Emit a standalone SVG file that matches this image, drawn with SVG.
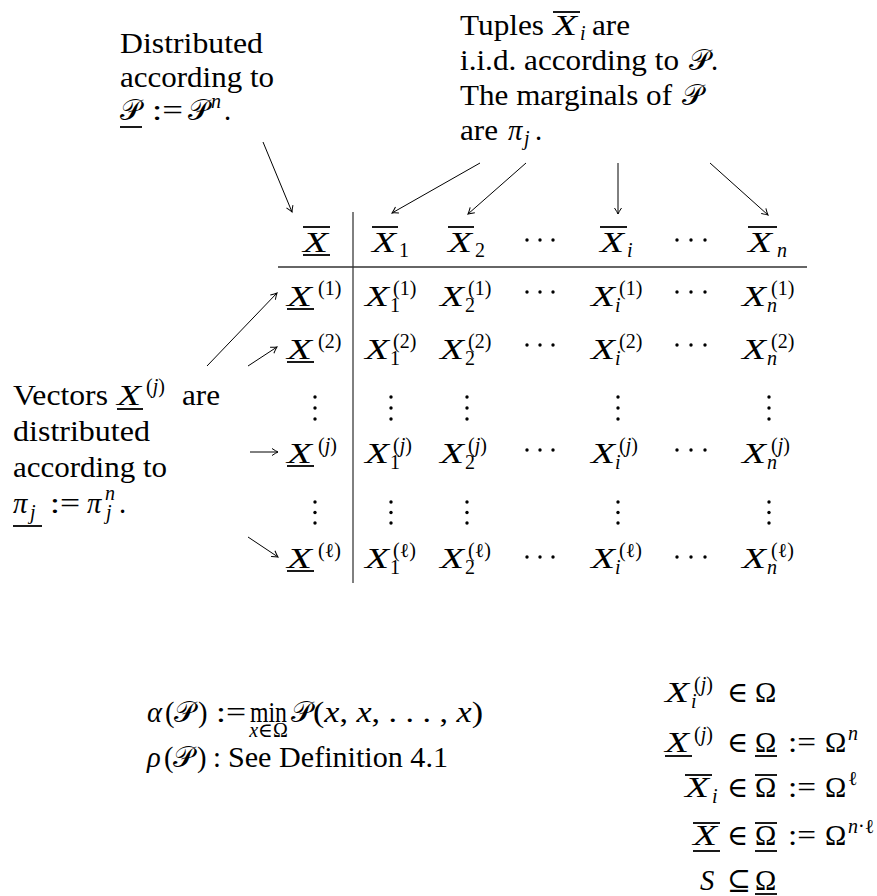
<svg xmlns="http://www.w3.org/2000/svg" width="877" height="896" viewBox="0 0 877 896" font-family="'Liberation Serif', serif">
<defs>
<style>
.t{font-family:'Liberation Serif','DejaVu Serif',serif;font-size:28.6px;fill:#000}
.m{font-style:italic}
.s{font-size:20px}
.cal{font-family:'DejaVu Serif','Liberation Serif',serif;font-style:normal}
.ln{stroke:#000;stroke-width:1.8;fill:none}
.rule{stroke:#000;stroke-width:1;fill:none}
.c{stroke:#000;stroke-width:1;fill:none;marker-end:url(#ah)}
.d{fill:#000}
</style>
<marker id="ah" viewBox="-8 -5 10 10" refX="0" refY="0" markerWidth="10" markerHeight="10" markerUnits="userSpaceOnUse" orient="auto">
<path d="M-6,-3.5 Q-2,-0.8 0,0 Q-2,0.8 -6,3.5" fill="none" stroke="#000" stroke-width="1"/>
</marker>
</defs>
<rect width="877" height="896" fill="#fff"/>

<g id="label-top-left">
<text class="t" x="120" y="53" textLength="143" lengthAdjust="spacingAndGlyphs">Distributed</text>
<text class="t" x="120" y="87" textLength="154" lengthAdjust="spacingAndGlyphs">according to</text>
<text class="t cal" x="120" y="120" textLength="21" lengthAdjust="spacingAndGlyphs">𝒫</text>
<line class="ln" x1="120" y1="127" x2="142" y2="127"/>
<text class="t" x="152" y="120" textLength="31" lengthAdjust="spacingAndGlyphs">:=</text>
<text class="t cal" x="188" y="120" textLength="21" lengthAdjust="spacingAndGlyphs">𝒫</text>
<text class="t s m" x="211" y="108">n</text>
<text class="t" x="224" y="120">.</text>
</g>

<g id="label-top-right">
<text class="t" x="460" y="35" textLength="84" lengthAdjust="spacingAndGlyphs">Tuples</text>
<text class="t m" x="553" y="35" textLength="24" lengthAdjust="spacingAndGlyphs">X</text>
<line class="ln" x1="553" y1="12" x2="580" y2="12"/>
<text class="t s m" x="580" y="40">i</text>
<text class="t" x="592" y="35" textLength="38" lengthAdjust="spacingAndGlyphs">are</text>
<text class="t" x="460" y="70" textLength="219" lengthAdjust="spacingAndGlyphs">i.i.d. according to</text>
<text class="t cal" x="689" y="70" textLength="21" lengthAdjust="spacingAndGlyphs">𝒫</text>
<text class="t" x="711" y="70">.</text>
<text class="t" x="460" y="105" textLength="212" lengthAdjust="spacingAndGlyphs">The marginals of</text>
<text class="t cal" x="682" y="105" textLength="21" lengthAdjust="spacingAndGlyphs">𝒫</text>
<text class="t" x="460" y="140" textLength="38" lengthAdjust="spacingAndGlyphs">are</text>
<text class="t m" x="508" y="140">π</text>
<text class="t s m" x="524" y="145">j</text>
<text class="t" x="535" y="140">.</text>
</g>

<g id="label-left">
<text class="t" x="13" y="405" textLength="95" lengthAdjust="spacingAndGlyphs">Vectors</text>
<text class="t m" x="117" y="405" textLength="24" lengthAdjust="spacingAndGlyphs">X</text>
<line class="ln" x1="117" y1="409" x2="143" y2="409"/>
<text class="t s" x="146" y="393">(<tspan class="m">j</tspan>)</text>
<text class="t" x="182" y="405" textLength="38" lengthAdjust="spacingAndGlyphs">are</text>
<text class="t" x="13" y="441" textLength="137" lengthAdjust="spacingAndGlyphs">distributed</text>
<text class="t" x="13" y="477" textLength="154" lengthAdjust="spacingAndGlyphs">according to</text>
<text class="t m" x="13" y="513">π</text>
<text class="t s m" x="30" y="519">j</text>
<line class="ln" x1="13" y1="526" x2="42" y2="526"/>
<text class="t" x="50" y="513" textLength="30" lengthAdjust="spacingAndGlyphs">:=</text>
<text class="t m" x="87" y="513">π</text>
<text class="t s m" x="105" y="500">n</text>
<text class="t s m" x="106" y="519">j</text>
<text class="t" x="119" y="513">.</text>
</g>

<g id="table">
<g id="table-rules">
<line class="rule" x1="353" y1="212" x2="353" y2="583"/>
<line x1="278" y1="267" x2="807" y2="267" stroke="#333" stroke-width="1.3"/>
</g>
<g id="header">
<g id="h-0">
<text class="t m" x="303" y="252" textLength="25" lengthAdjust="spacingAndGlyphs">X</text>
<line class="ln" x1="303" y1="227" x2="330" y2="227"/>
<line class="ln" x1="303" y1="255" x2="330" y2="255"/>
</g>
<g id="h-1">
<text class="t m" x="372" y="252" textLength="24" lengthAdjust="spacingAndGlyphs">X</text>
<line class="ln" x1="372" y1="227" x2="398" y2="227"/>
<text class="t s" x="399" y="257">1</text>
</g>
<g id="h-2">
<text class="t m" x="448" y="252" textLength="24" lengthAdjust="spacingAndGlyphs">X</text>
<line class="ln" x1="448" y1="227" x2="474" y2="227"/>
<text class="t s" x="475" y="257">2</text>
</g>
<g id="h-dots1"><circle class="d" cx="527" cy="240" r="1.7"/><circle class="d" cx="540" cy="240" r="1.7"/><circle class="d" cx="553" cy="240" r="1.7"/></g>
<g id="h-i">
<text class="t m" x="600" y="252" textLength="24" lengthAdjust="spacingAndGlyphs">X</text>
<line class="ln" x1="600" y1="227" x2="627" y2="227"/>
<text class="t s m" x="627" y="257">i</text>
</g>
<g id="h-dots2"><circle class="d" cx="677" cy="240" r="1.7"/><circle class="d" cx="691" cy="240" r="1.7"/><circle class="d" cx="705" cy="240" r="1.7"/></g>
<g id="h-n">
<text class="t m" x="748" y="252" textLength="24" lengthAdjust="spacingAndGlyphs">X</text>
<line class="ln" x1="748" y1="227" x2="777" y2="227"/>
<text class="t s m" x="777" y="257">n</text>
</g>
</g>

<g id="row-1">
<g id="r1-head"><text class="t m" x="287" y="306" textLength="25" lengthAdjust="spacingAndGlyphs">X</text><line class="ln" x1="287" y1="309" x2="314" y2="309"/><text class="t s" x="318" y="295">(1)</text></g>
<g id="r1-c1"><text class="t m" x="365" y="306" textLength="24" lengthAdjust="spacingAndGlyphs">X</text><text class="t s" x="393" y="295">(1)</text><text class="t s" x="390" y="312">1</text></g>
<g id="r1-c2"><text class="t m" x="440" y="306" textLength="24" lengthAdjust="spacingAndGlyphs">X</text><text class="t s" x="468" y="295">(1)</text><text class="t s" x="465" y="312">2</text></g>
<g id="r1-d1"><circle class="d" cx="527" cy="292" r="1.7"/><circle class="d" cx="540" cy="292" r="1.7"/><circle class="d" cx="553" cy="292" r="1.7"/></g>
<g id="r1-ci"><text class="t m" x="591" y="306" textLength="24" lengthAdjust="spacingAndGlyphs">X</text><text class="t s" x="619" y="295">(1)</text><text class="t s m" x="615" y="312">i</text></g>
<g id="r1-d2"><circle class="d" cx="677" cy="292" r="1.7"/><circle class="d" cx="691" cy="292" r="1.7"/><circle class="d" cx="705" cy="292" r="1.7"/></g>
<g id="r1-cn"><text class="t m" x="742" y="306" textLength="24" lengthAdjust="spacingAndGlyphs">X</text><text class="t s" x="771" y="295">(1)</text><text class="t s m" x="767" y="312">n</text></g>
</g>

<g id="row-2">
<g id="r2-head"><text class="t m" x="287" y="359" textLength="25" lengthAdjust="spacingAndGlyphs">X</text><line class="ln" x1="287" y1="362" x2="314" y2="362"/><text class="t s" x="318" y="348">(2)</text></g>
<g id="r2-c1"><text class="t m" x="365" y="359" textLength="24" lengthAdjust="spacingAndGlyphs">X</text><text class="t s" x="393" y="348">(2)</text><text class="t s" x="390" y="365">1</text></g>
<g id="r2-c2"><text class="t m" x="440" y="359" textLength="24" lengthAdjust="spacingAndGlyphs">X</text><text class="t s" x="468" y="348">(2)</text><text class="t s" x="465" y="365">2</text></g>
<g id="r2-d1"><circle class="d" cx="527" cy="345" r="1.7"/><circle class="d" cx="540" cy="345" r="1.7"/><circle class="d" cx="553" cy="345" r="1.7"/></g>
<g id="r2-ci"><text class="t m" x="591" y="359" textLength="24" lengthAdjust="spacingAndGlyphs">X</text><text class="t s" x="619" y="348">(2)</text><text class="t s m" x="615" y="365">i</text></g>
<g id="r2-d2"><circle class="d" cx="677" cy="345" r="1.7"/><circle class="d" cx="691" cy="345" r="1.7"/><circle class="d" cx="705" cy="345" r="1.7"/></g>
<g id="r2-cn"><text class="t m" x="742" y="359" textLength="24" lengthAdjust="spacingAndGlyphs">X</text><text class="t s" x="771" y="348">(2)</text><text class="t s m" x="767" y="365">n</text></g>
</g>

<g id="row-3-vdots">
<circle class="d" cx="315" cy="397" r="1.7"/><circle class="d" cx="315" cy="408" r="1.7"/><circle class="d" cx="315" cy="419" r="1.7"/>
<circle class="d" cx="391" cy="397" r="1.7"/><circle class="d" cx="391" cy="408" r="1.7"/><circle class="d" cx="391" cy="419" r="1.7"/>
<circle class="d" cx="467" cy="397" r="1.7"/><circle class="d" cx="467" cy="408" r="1.7"/><circle class="d" cx="467" cy="419" r="1.7"/>
<circle class="d" cx="618" cy="397" r="1.7"/><circle class="d" cx="618" cy="408" r="1.7"/><circle class="d" cx="618" cy="419" r="1.7"/>
<circle class="d" cx="769" cy="397" r="1.7"/><circle class="d" cx="769" cy="408" r="1.7"/><circle class="d" cx="769" cy="419" r="1.7"/>
</g>

<g id="row-j">
<g id="rj-head"><text class="t m" x="287" y="463" textLength="25" lengthAdjust="spacingAndGlyphs">X</text><line class="ln" x1="287" y1="466" x2="314" y2="466"/><text class="t s" x="318" y="452">(<tspan class="m">j</tspan>)</text></g>
<g id="rj-c1"><text class="t m" x="365" y="463" textLength="24" lengthAdjust="spacingAndGlyphs">X</text><text class="t s" x="393" y="452">(<tspan class="m">j</tspan>)</text><text class="t s" x="390" y="469">1</text></g>
<g id="rj-c2"><text class="t m" x="440" y="463" textLength="24" lengthAdjust="spacingAndGlyphs">X</text><text class="t s" x="468" y="452">(<tspan class="m">j</tspan>)</text><text class="t s" x="465" y="469">2</text></g>
<g id="rj-d1"><circle class="d" cx="527" cy="450" r="1.7"/><circle class="d" cx="540" cy="450" r="1.7"/><circle class="d" cx="553" cy="450" r="1.7"/></g>
<g id="rj-ci"><text class="t m" x="591" y="463" textLength="24" lengthAdjust="spacingAndGlyphs">X</text><text class="t s" x="619" y="452">(<tspan class="m">j</tspan>)</text><text class="t s m" x="615" y="469">i</text></g>
<g id="rj-d2"><circle class="d" cx="677" cy="450" r="1.7"/><circle class="d" cx="691" cy="450" r="1.7"/><circle class="d" cx="705" cy="450" r="1.7"/></g>
<g id="rj-cn"><text class="t m" x="742" y="463" textLength="24" lengthAdjust="spacingAndGlyphs">X</text><text class="t s" x="771" y="452">(<tspan class="m">j</tspan>)</text><text class="t s m" x="767" y="469">n</text></g>
</g>

<g id="row-5-vdots">
<circle class="d" cx="315" cy="502" r="1.7"/><circle class="d" cx="315" cy="512.5" r="1.7"/><circle class="d" cx="315" cy="523" r="1.7"/>
<circle class="d" cx="391" cy="502" r="1.7"/><circle class="d" cx="391" cy="512.5" r="1.7"/><circle class="d" cx="391" cy="523" r="1.7"/>
<circle class="d" cx="467" cy="502" r="1.7"/><circle class="d" cx="467" cy="512.5" r="1.7"/><circle class="d" cx="467" cy="523" r="1.7"/>
<circle class="d" cx="618" cy="502" r="1.7"/><circle class="d" cx="618" cy="512.5" r="1.7"/><circle class="d" cx="618" cy="523" r="1.7"/>
<circle class="d" cx="769" cy="502" r="1.7"/><circle class="d" cx="769" cy="512.5" r="1.7"/><circle class="d" cx="769" cy="523" r="1.7"/>
</g>

<g id="row-l">
<g id="rl-head"><text class="t m" x="287" y="568" textLength="25" lengthAdjust="spacingAndGlyphs">X</text><line class="ln" x1="287" y1="571" x2="314" y2="571"/><text class="t s" x="318" y="557">(ℓ)</text></g>
<g id="rl-c1"><text class="t m" x="365" y="568" textLength="24" lengthAdjust="spacingAndGlyphs">X</text><text class="t s" x="393" y="557">(ℓ)</text><text class="t s" x="390" y="574">1</text></g>
<g id="rl-c2"><text class="t m" x="440" y="568" textLength="24" lengthAdjust="spacingAndGlyphs">X</text><text class="t s" x="468" y="557">(ℓ)</text><text class="t s" x="465" y="574">2</text></g>
<g id="rl-d1"><circle class="d" cx="527" cy="557" r="1.7"/><circle class="d" cx="540" cy="557" r="1.7"/><circle class="d" cx="553" cy="557" r="1.7"/></g>
<g id="rl-ci"><text class="t m" x="591" y="568" textLength="24" lengthAdjust="spacingAndGlyphs">X</text><text class="t s" x="619" y="557">(ℓ)</text><text class="t s m" x="615" y="574">i</text></g>
<g id="rl-d2"><circle class="d" cx="677" cy="557" r="1.7"/><circle class="d" cx="691" cy="557" r="1.7"/><circle class="d" cx="705" cy="557" r="1.7"/></g>
<g id="rl-cn"><text class="t m" x="742" y="568" textLength="24" lengthAdjust="spacingAndGlyphs">X</text><text class="t s" x="771" y="557">(ℓ)</text><text class="t s m" x="767" y="574">n</text></g>
</g>
</g>

<g id="connectors">
<line class="c" x1="263" y1="142" x2="292" y2="212"/>
<line class="c" x1="480" y1="163" x2="392" y2="213"/>
<line class="c" x1="526" y1="163" x2="468" y2="214"/>
<line class="c" x1="618" y1="163" x2="618" y2="214"/>
<line class="c" x1="710" y1="163" x2="768" y2="215"/>
<line class="c" x1="207" y1="366" x2="277" y2="293"/>
<line class="c" x1="248" y1="366" x2="277" y2="347"/>
<line class="c" x1="250" y1="452" x2="278" y2="452"/>
<line class="c" x1="248" y1="537" x2="278" y2="557"/>
</g>

<g id="formula-alpha">
<text class="t m" x="147" y="722">α</text>
<text class="t" x="165" y="722">(</text>
<text class="t cal" x="174" y="722" textLength="21" lengthAdjust="spacingAndGlyphs">𝒫</text>
<text class="t" x="198" y="722">)</text>
<text class="t" x="216" y="722" textLength="30" lengthAdjust="spacingAndGlyphs">:=</text>
<text class="t" x="250" y="722" textLength="37" lengthAdjust="spacingAndGlyphs">min</text>
<text class="t s" x="268.5" y="737" text-anchor="middle" font-size="19"><tspan class="m">x</tspan>∈Ω</text>
<text class="t cal" x="291" y="722" textLength="21" lengthAdjust="spacingAndGlyphs">𝒫</text>
<text class="t" x="313" y="722" textLength="170" lengthAdjust="spacingAndGlyphs">(<tspan class="m">x</tspan>, <tspan class="m">x</tspan>, . . . , <tspan class="m">x</tspan>)</text>
</g>

<g id="formula-rho">
<text class="t m" x="147" y="767">ρ</text>
<text class="t" x="164" y="767">(</text>
<text class="t cal" x="173" y="767" textLength="21" lengthAdjust="spacingAndGlyphs">𝒫</text>
<text class="t" x="197" y="767">)</text>
<text class="t" x="213" y="767">:</text>
<text class="t" x="228" y="767" textLength="220" lengthAdjust="spacingAndGlyphs">See Definition 4.1</text>
</g>

<g id="formula-sets">
<g id="set-a">
<text class="t m" x="665" y="702" textLength="24" lengthAdjust="spacingAndGlyphs">X</text>
<text class="t s" x="694" y="691">(<tspan class="m">j</tspan>)</text>
<text class="t s m" x="691" y="708">i</text>
<text class="t" x="727" y="702">∈</text>
<text class="t" x="755" y="702">Ω</text>
</g>
<g id="set-b">
<text class="t m" x="665" y="752" textLength="24" lengthAdjust="spacingAndGlyphs">X</text>
<line class="ln" x1="665" y1="756" x2="692" y2="756"/>
<text class="t s" x="694" y="741">(<tspan class="m">j</tspan>)</text>
<text class="t" x="727" y="752">∈</text>
<text class="t" x="755" y="752">Ω</text>
<line class="ln" x1="755" y1="756" x2="777" y2="756"/>
<text class="t" x="788" y="752" textLength="28" lengthAdjust="spacingAndGlyphs">:=</text>
<text class="t" x="825" y="752">Ω</text>
<text class="t s m" x="848" y="740">n</text>
</g>
<g id="set-c">
<text class="t m" x="685" y="797" textLength="24" lengthAdjust="spacingAndGlyphs">X</text>
<line class="ln" x1="685" y1="775" x2="712" y2="775"/>
<text class="t s m" x="712" y="803">i</text>
<text class="t" x="727" y="797">∈</text>
<text class="t" x="755" y="797">Ω</text>
<line class="ln" x1="755" y1="775" x2="777" y2="775"/>
<text class="t" x="788" y="797" textLength="28" lengthAdjust="spacingAndGlyphs">:=</text>
<text class="t" x="825" y="797">Ω</text>
<text class="t s" x="848" y="785">ℓ</text>
</g>
<g id="set-d">
<text class="t m" x="693" y="845" textLength="24" lengthAdjust="spacingAndGlyphs">X</text>
<line class="ln" x1="693" y1="823" x2="720" y2="823"/>
<line class="ln" x1="693" y1="851" x2="720" y2="851"/>
<text class="t" x="727" y="845">∈</text>
<text class="t" x="755" y="845">Ω</text>
<line class="ln" x1="755" y1="823" x2="777" y2="823"/>
<line class="ln" x1="755" y1="851" x2="777" y2="851"/>
<text class="t" x="788" y="845" textLength="28" lengthAdjust="spacingAndGlyphs">:=</text>
<text class="t" x="825" y="845">Ω</text>
<text class="t s" x="848" y="833"><tspan class="m">n</tspan>·ℓ</text>
</g>
<g id="set-e">
<text class="t m" x="700" y="890">S</text>
<text class="t" x="727" y="890">⊆</text>
<text class="t" x="755" y="890">Ω</text>
<line class="ln" x1="755" y1="894" x2="777" y2="894"/>
</g>
</g>
</svg>
